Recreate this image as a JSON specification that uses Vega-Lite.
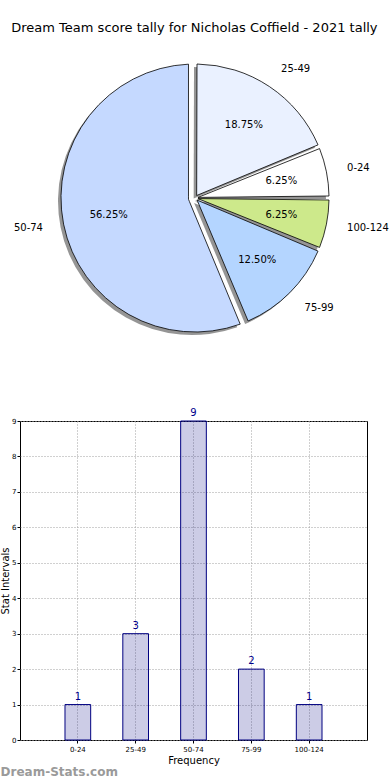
{
  "$schema": "https://vega.github.io/schema/vega-lite/v6.json",
  "padding": {"left": 0, "right": 0, "top": 22, "bottom": 0},
  "background": "white",
  "title": {"text": "Dream Team score tally for Nicholas Coffield - 2021 tally", "fontSize": 13, "font": "DejaVu Sans", "fontWeight": "normal", "anchor": "middle", "color": "black", "offset": 8},
  "config": {"font": "DejaVu Sans", "view": {"stroke": null}},
  "datasets": {
    "tally": [
      {"cat": "25-49", "count": 3, "pct": 0.1875},
      {"cat": "0-24", "count": 1, "pct": 0.0625},
      {"cat": "100-124", "count": 1, "pct": 0.0625},
      {"cat": "75-99", "count": 2, "pct": 0.125},
      {"cat": "50-74", "count": 9, "pct": 0.5625}
    ]
  },
  "spacing": 54,
  "vconcat": [
    {
      "width": 350,
      "height": 310,
      "data": {"name": "tally"},
      "transform": [{"window": [{"op": "row_number", "as": "ord"}]}],
      "encoding": {
        "theta": {"field": "count", "type": "quantitative", "stack": true},
        "order": {"field": "ord", "type": "quantitative"}
      },
      "layer": [
        {
          "mark": {"type": "arc", "outerRadius": 134, "innerRadius": 3, "padAngle": 0.03, "fill": "#8a8a8a", "xOffset": -3, "yOffset": 3},
          "encoding": {"opacity": {"condition": {"test": "datum.cat === '50-74'", "value": 0}, "value": 0.9}}
        },
        {
          "mark": {"type": "arc", "outerRadius": 134, "innerRadius": 6.6, "padAngle": 0.097, "fill": "#8a8a8a", "xOffset": -3, "yOffset": 3},
          "encoding": {"opacity": {"condition": {"test": "datum.cat === '50-74'", "value": 0.9}, "value": 0}}
        },
        {
          "mark": {"type": "arc", "outerRadius": 134, "innerRadius": 3, "padAngle": 0.03, "stroke": "black", "strokeWidth": 0.8},
          "encoding": {
            "color": {"field": "cat", "type": "nominal", "legend": null,
              "scale": {"domain": ["0-24", "25-49", "50-74", "75-99", "100-124"], "range": ["#ffffff", "#eaf1ff", "#c5d9ff", "#b4d5ff", "#cde98b"]}},
            "opacity": {"condition": {"test": "datum.cat === '50-74'", "value": 0}, "value": 1}
          }
        },
        {
          "mark": {"type": "arc", "outerRadius": 134, "innerRadius": 6.6, "padAngle": 0.097, "stroke": "black", "strokeWidth": 0.8},
          "encoding": {
            "color": {"field": "cat", "type": "nominal", "legend": null},
            "opacity": {"condition": {"test": "datum.cat === '50-74'", "value": 1}, "value": 0}
          }
        },
        {
          "mark": {"type": "text", "radius": 88, "fontSize": 10, "align": "center", "baseline": "middle", "color": "black"},
          "encoding": {"text": {"field": "pct", "type": "quantitative", "format": ".2%"}}
        },
        {
          "mark": {"type": "text", "radius": 155, "fontSize": 10, "align": "left", "baseline": "middle", "color": "black"},
          "encoding": {"text": {"condition": {"test": "datum.cat !== '50-74'", "field": "cat"}, "value": ""}}
        },
        {
          "mark": {"type": "text", "radius": 155, "fontSize": 10, "align": "right", "baseline": "middle", "color": "black"},
          "encoding": {"text": {"condition": {"test": "datum.cat === '50-74'", "field": "cat"}, "value": ""}}
        }
      ]
    },
    {
      "width": 347,
      "height": 319,
      "data": {"name": "tally"},
      "view": {"stroke": "black", "strokeWidth": 1},
      "title": {"text": "Dream-Stats.com", "orient": "bottom", "anchor": "start", "frame": "bounds", "color": "#9a9a9a", "fontSize": 12, "fontWeight": "bold", "font": "DejaVu Sans", "offset": 2},
      "encoding": {
        "x": {"field": "cat", "type": "nominal", "sort": ["0-24", "25-49", "50-74", "75-99", "100-124"],
          "scale": {"paddingInner": 0.556, "paddingOuter": 0.778},
          "axis": {"title": "Frequency", "labelAngle": 0, "labelFontSize": 7, "labelColor": "black", "titleFontSize": 10, "titleFontWeight": "normal", "titleColor": "black", "titlePadding": 3, "labelPadding": 2, "grid": true, "gridDash": [1, 2], "gridColor": "#a0a0a0", "bandPosition": 0.5, "domain": false, "tickSize": 3, "tickColor": "black"}},
        "y": {"field": "count", "type": "quantitative", "scale": {"domain": [0, 9], "nice": false},
          "axis": {"title": "Stat Intervals", "values": [0, 1, 2, 3, 4, 5, 6, 7, 8, 9], "labelFontSize": 7, "labelColor": "black", "titleFontSize": 10, "titleFontWeight": "normal", "titleColor": "black", "titlePadding": 1, "labelPadding": 1, "grid": true, "gridDash": [1, 2], "gridColor": "#a0a0a0", "domain": false, "tickSize": 3, "tickColor": "black"}}
      },
      "layer": [
        {"mark": {"type": "bar", "fill": "#000080", "fillOpacity": 0.2, "stroke": "#000080", "strokeWidth": 1}},
        {"mark": {"type": "text", "dy": -3, "baseline": "bottom", "color": "#00008b", "fontSize": 10}, "encoding": {"text": {"field": "count", "type": "quantitative"}}}
      ]
    }
  ]
}
